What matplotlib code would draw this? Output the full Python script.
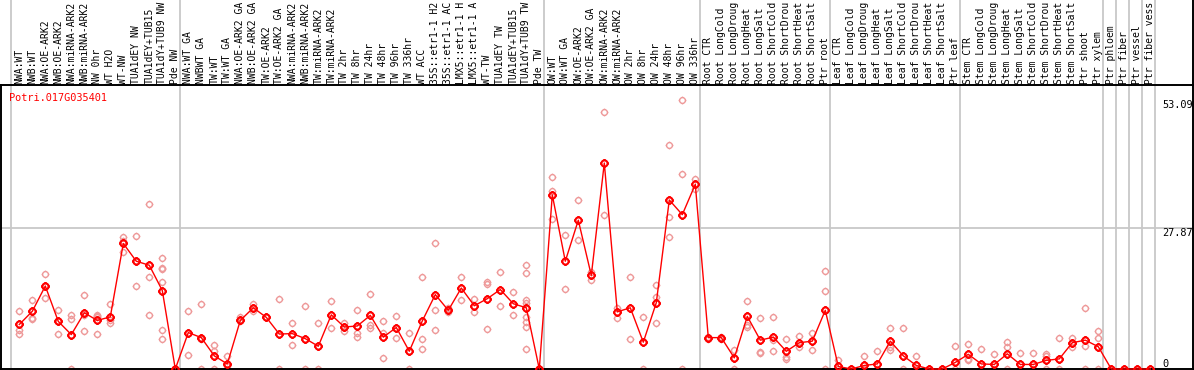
import matplotlib
matplotlib.use("Agg")
import matplotlib.pyplot as plt
from matplotlib.path import Path
from matplotlib.transforms import blended_transform_factory

# etichette dei campioni (colonne), troncate come nell'originale
labels = [
    "NWA:WT", "NWB:WT", "NWA:OE-ARK2", "NWB:OE-ARK2", "NWA:miRNA-ARK2", "NWB:miRNA-ARK2",
    "NW 0hr", "WT H2O", "WT-NW", "TUA1dEY NW", "TUA1dEY+TUB15", "TUA1dY+TUB9 NW", "Pde NW",
    "NWA:WT GA", "NWBWT GA", "TW:WT", "TW:WT GA", "NWA:OE-ARK2 GA", "NWB:OE-ARK2 GA",
    "TW:OE-ARK2", "TW:OE-ARK2 GA", "NWA:miRNA-ARK2", "NWB:miRNA-ARK2", "TW:miRNA-ARK2",
    "TW:miRNA-ARK2", "TW 2hr", "TW 8hr", "TW 24hr", "TW 48hr", "TW 96hr", "TW 336hr",
    "WT ACC", "35S::etr1-1 H2", "35S::etr1-1 AC", "LMX5::etr1-1 H", "LMX5::etr1-1 A",
    "WT-TW", "TUA1dEY TW", "TUA1dEY+TUB15", "TUA1dY+TUB9 TW", "Pde TW",
    "OW:WT", "OW:WT GA", "OW:OE-ARK2", "OW:OE-ARK2 GA", "OW:miRNA-ARK2", "OW:miRNA-ARK2",
    "OW 2hr", "OW 8hr", "OW 24hr", "OW 48hr", "OW 96hr", "OW 336hr",
    "Root CTR", "Root LongCold", "Root LongDroug", "Root LongHeat", "Root LongSalt",
    "Root ShortCold", "Root ShortDrou", "Root ShortHeat", "Root ShortSalt", "Ptr root",
    "Leaf CTR", "Leaf LongCold", "Leaf LongDroug", "Leaf LongHeat", "Leaf LongSalt",
    "Leaf ShortCold", "Leaf ShortDrou", "Leaf ShortHeat", "Leaf ShortSalt", "Ptr leaf",
    "Stem CTR", "Stem LongCold", "Stem LongDroug", "Stem LongHeat", "Stem LongSalt",
    "Stem ShortCold", "Stem ShortDrou", "Stem ShortHeat", "Stem ShortSalt",
    "Ptr shoot", "Ptr xylem", "Ptr phloem", "Ptr fiber", "Ptr vessel", "Ptr fiber vess",
]

# valori medi (linea rossa)
means = [
    8.8, 11.4, 16.4, 9.4, 6.8, 11.1, 9.6, 10.3, 24.8, 21.3, 20.5, 15.5, 0,
    7.2, 6.2, 2.6, 1.0, 9.6, 12.1, 10.2, 6.9, 7.0, 6.0, 4.5, 10.7, 8.3, 8.5, 10.6,
    6.3, 8.2, 3.5, 9.5, 14.7, 11.6, 16.0, 12.5, 13.9, 15.7, 12.9, 12.1, 0,
    34.4, 21.3, 29.4, 18.5, 40.7, 11.3, 12.1, 5.3, 13.1, 33.4, 30.5, 36.5,
    6.2, 6.2, 2.2, 10.4, 5.7, 6.3, 3.5, 5.2, 5.5, 11.6,
    0.5, 0, 0.7, 1.0, 5.5, 2.6, 0.7, 0, 0, 1.3,
    2.9, 1.0, 0.9, 3.0, 0.9, 0.9, 1.7, 2.0, 5.2, 5.7, 4.4,
    0, 0, 0, 0,
]

# repliche (cerchi rosa)
reps = [
    [11.4, 7.8, 7.0], [13.7, 10.1, 9.8], [18.7, 14.1, 16.4], [11.7, 7.0, 9.4],
    [10.6, 9.8, 0], [14.7, 7.6, 10.6], [10.7, 10.3, 7.0, 10.5], [12.9, 9.0, 9.6],
    [26.1, 23.1, 25.2], [26.2, 16.4, 21.3], [32.7, 18.1, 10.7],
    [22.0, 20.0, 19.7, 17.1, 7.8, 6.0], [0, 0],
    [11.4, 2.8], [12.8, 0, 6.0], [4.8, 3.5, 0], [2.5, 0.6, 0], [10.2, 9.4],
    [12.9, 11.5], [10.2], [13.9, 0], [9.0, 4.8], [12.4, 0], [9.0, 0], [13.4, 8.2],
    [9.0, 7.5, 8.3], [11.7, 7.2, 6.3], [14.9, 8.6, 8.2], [9.5, 7.2, 2.2], [10.4, 6.2],
    [7.2, 0], [18.1, 6.0, 4.0], [24.8, 11.7, 7.8], [12.1, 11.3], [18.1, 13.7],
    [13.9, 11.3], [17.2, 16.7, 8.0], [19.2, 12.5], [15.2, 10.7],
    [20.6, 18.9, 13.7, 13.1, 10.3, 9.3, 8.3, 4.0], [0],
    [37.9, 35.2, 29.7], [26.4, 15.9], [33.4, 25.5], [19.2, 17.5], [50.7, 30.4],
    [12.1, 10.1], [18.1, 6.0], [10.3, 0], [16.6, 14.2, 9.0], [44.2, 30.1, 26.0],
    [53.09, 38.6, 0], [37.5, 35.5],
    [6.3, 6.0], [6.3, 6.0], [3.8, 0], [13.4, 8.6, 8.3], [10.0, 3.4, 3.2],
    [10.2, 5.7, 3.5], [5.9, 2.4, 2.0], [6.5, 4.4], [7.2, 3.8], [19.3, 15.4, 0],
    [1.7, 0], [0], [2.5, 0], [3.5, 0], [8.2, 4.4, 3.7], [8.2, 0], [2.5, 0], [0], [0],
    [4.5, 0],
    [5.0, 2.0, 1.7], [3.9, 0], [3.0, 0], [5.3, 4.4, 0], [3.2, 0], [3.2, 0],
    [3.0, 2.5, 0], [6.2, 0], [6.2, 4.4], [12.1, 4.5, 0], [7.5, 6.2, 0],
    [0], [0], [0], [0],
]

gene = "Potri.017G035401"
y_ticks = [0, 27.87, 53.09]
# colonne dopo cui cade un separatore
group_ends = [0, 13, 41, 53, 63, 73, 84, 85, 86, 87, 88]

W, H = 1194, 370
fig = plt.figure(figsize=(W / 100, H / 100), dpi=100)
ax = fig.add_axes([1 / W, 1 / H, 1192 / W, 284 / H])

x = list(range(1, len(labels) + 1))
ax.set_xlim((1 - 6.3) / 13, (1193 - 6.3) / 13)
ax.set_ylim(0, 56.12)

# marker: cerchio con piccoli trattini esterni
circ = Path.unit_circle()
ticks = Path([(1, 0), (1.35, 0), (-1, 0), (-1.35, 0), (0, 1), (0, 1.35), (0, -1), (0, -1.35)],
             [Path.MOVETO, Path.LINETO] * 4)
mk = Path.make_compound_path(circ, ticks)

font = "DejaVu Sans Mono"
fs = 7.0
grid_c = "#c8c8c8"

# separatori verticali (anche nella testata)
for g in group_ends:
    ax.axvline(g + 0.33, ymin=0, ymax=(H - 1) / 284, color=grid_c, lw=1.3,
               clip_on=False, zorder=1)
ax.axhline(27.87, color=grid_c, lw=1.3, zorder=1)

# repliche
for xi, rv in zip(x, reps):
    ax.plot([xi] * len(rv), rv, ls="none", marker=mk, ms=5.6, mfc="none",
            mec="#ee9a9a", mew=1.0, clip_on=False, zorder=2)

# media
ax.plot(x, means, color="#ff0000", lw=1.0, marker=mk, ms=6.0, mfc="none",
        mec="#ff0000", mew=1.5, clip_on=False, zorder=3)

# etichette verticali in alto
tr = blended_transform_factory(ax.transData, ax.transAxes)
for xi, lab in zip(x, labels):
    ax.text(xi, 1.004, lab, rotation=90, ha="center", va="bottom", fontsize=fs,
            family=font, transform=tr, clip_on=False)

# valori asse y a destra
ty = blended_transform_factory(ax.transAxes, ax.transData)
for v in y_ticks:
    ax.text(0.9745, v, f"{v:g}" if v else "0", ha="left",
            va="bottom" if v == 0 else "top", fontsize=7.4, family=font,
            transform=ty)

ax.text(0.007, 0.972, gene, color="#ff0000", ha="left", va="top", fontsize=7.4,
        family=font, transform=ax.transAxes)

ax.set_xticks([])
ax.set_yticks([])
for s in ax.spines.values():
    s.set_linewidth(1.4)
    s.set_color("black")
# bordo destro anche nella testata
ax.plot([1, 1], [1, (H - 1) / 284], color="black", lw=1.4, transform=ax.transAxes,
        clip_on=False)

fig.savefig("out.png", dpi=100)
